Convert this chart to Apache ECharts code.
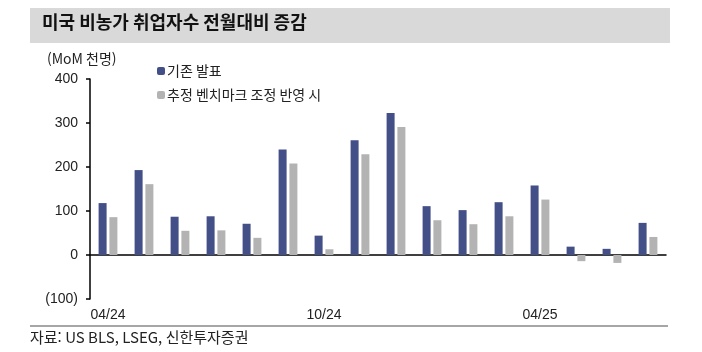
<!DOCTYPE html>
<html lang="ko">
<head>
    <meta charset="UTF-8">
    <title>미국 비농가 취업자수 전월대비 증감</title>
    <script src="https://cdn.jsdelivr.net/npm/echarts@6/dist/echarts.min.js"></script>
    <style>
        body{ margin:0; background:#fff; }
    </style>
</head>
<body>
    <div id="myChart" style="width: 702px;height:352px;"></div>

    <script>
        // 월 (04/24 ~ 07/25)
        var months = ['04/24','05/24','06/24','07/24','08/24','09/24','10/24','11/24','12/24',
                      '01/25','02/25','03/25','04/25','05/25','06/25','07/25'];
        var labelMonths = ['04/24','10/24','04/25'];
        // 기존 발표 (천명)
        var original = [118, 193, 87, 88, 71, 240, 44, 261, 323, 111, 102, 120, 158, 19, 14, 73];
        // 추정 벤치마크 조정 반영 시
        var adjusted = [86, 161, 55, 56, 39, 208, 13, 229, 291, 79, 70, 88, 126, -14, -18, 41];

        var font = '"Liberation Sans", "Noto Sans CJK KR", sans-serif';
        var krFont = '"Noto Sans CJK KR", "Liberation Sans", sans-serif';

        var myChart = echarts.init(document.getElementById('myChart'));
        var option = {
            animation: false,
            graphic: [
                { type: 'rect', shape: { x: 30, y: 8, width: 640, height: 35 }, style: { fill: '#d9d9d9' } },
                { type: 'text', left: 42, top: 13, style: { text: '미국 비농가 취업자수 전월대비 증감', font: 'bold 18px ' + krFont, fill: '#111' } },
                { type: 'line', shape: { x1: 30, y1: 326, x2: 668, y2: 326 }, style: { stroke: '#a6a6a6', lineWidth: 2 } },
                { type: 'text', left: 30, top: 330, style: { text: '자료: US BLS, LSEG, 신한투자증권', font: '15px ' + krFont, fill: '#222' } },
                { type: 'text', left: 47, top: 52, style: { text: '(MoM 천명)', font: '14px ' + krFont, fill: '#222' } }
            ],
            legend: {
                orient: 'vertical',
                left: 152,
                top: 59,
                itemWidth: 8,
                itemHeight: 8,
                itemGap: 10,
                textStyle: { fontFamily: krFont, fontSize: 14, color: '#222', padding: [0, 0, 0, -3] },
                data: ['기존 발표', '추정 벤치마크 조정 반영 시']
            },
            grid: { left: 90, right: 36, top: 79, bottom: 53 },
            xAxis: [
                {
                    type: 'category',
                    data: months,
                    axisLine: { onZero: true, lineStyle: { color: '#000', width: 1.5 } },
                    axisTick: { interval: 5, length: 4, inside: false, lineStyle: { color: '#000', width: 1.5 } },
                    axisLabel: { show: false }
                },
                {
                    type: 'category',
                    data: months,
                    position: 'bottom',
                    axisLine: { show: false, onZero: false },
                    axisTick: { show: false },
                    axisLabel: {
                        interval: 0,
                        margin: 9,
                        fontFamily: font,
                        fontSize: 14,
                        color: '#222',
                        formatter: function (v) { return labelMonths.indexOf(v) >= 0 ? v : ''; }
                    }
                }
            ],
            yAxis: {
                type: 'value',
                min: -100,
                max: 400,
                interval: 100,
                splitLine: { show: false },
                axisLine: { show: true, lineStyle: { color: '#000', width: 1.5 } },
                axisTick: { show: true, length: 4, lineStyle: { color: '#000', width: 1.5 } },
                axisLabel: {
                    margin: 12,
                    fontFamily: font,
                    fontSize: 14,
                    color: '#222',
                    formatter: function (v) { return v < 0 ? '(' + (-v) + ')' : v; }
                }
            },
            series: [
                {
                    name: '기존 발표',
                    type: 'bar',
                    barWidth: 8,
                    barGap: '35%',
                    itemStyle: { color: '#434f87' },
                    data: original
                },
                {
                    name: '추정 벤치마크 조정 반영 시',
                    type: 'bar',
                    barWidth: 8,
                    barGap: '35%',
                    itemStyle: { color: '#b3b3b3' },
                    data: adjusted
                }
            ]
        };
        myChart.setOption(option);
    </script>
</body>
</html>
